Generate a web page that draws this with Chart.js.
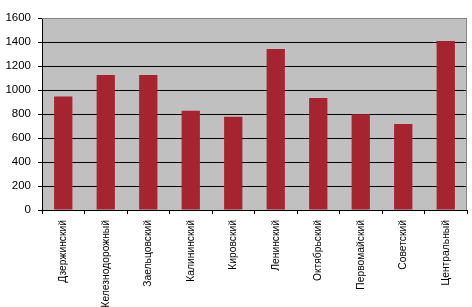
<!DOCTYPE html>
<html>
<head>
<meta charset="utf-8">
<script src="https://cdn.jsdelivr.net/npm/chart.js@4"></script>
<style>
  html, body { margin: 0; padding: 0; background: #fff; }
  #wrap { width: 472px; height: 307px; }
</style>
</head>
<body>
<div id="wrap"><canvas id="chart" width="472" height="307"></canvas></div>
<script>
// District values
const districts = ['Дзержинский', 'Железнодорожный', 'Заельцовский', 'Калининский', 'Кировский',
                   'Ленинский', 'Октябрьский', 'Первомайский', 'Советский', 'Центральный'];
const values = [945, 1125, 1125, 828, 778, 1342, 933, 797, 717, 1408];
const yMax = 1600;
const yStep = 200;

// gray plot background + gray top/right border
const plotFrame = {
    id: 'plotFrame',
    beforeDraw(chart) {
        const a = chart.chartArea;
        const ctx = chart.ctx;
        ctx.save();
        ctx.fillStyle = '#c0c0c0';
        ctx.fillRect(a.left, a.top, a.right - a.left, a.bottom - a.top);
        ctx.restore();
    },
    afterDatasetsDraw(chart) {
        const a = chart.chartArea;
        const ctx = chart.ctx;
        ctx.save();
        ctx.strokeStyle = '#858585';
        ctx.lineWidth = 1;
        ctx.beginPath();
        ctx.moveTo(a.left, a.top + 0.5);
        ctx.lineTo(a.right - 0.5, a.top + 0.5);
        ctx.lineTo(a.right - 0.5, a.bottom);
        ctx.stroke();
        ctx.restore();
    }
};

new Chart(document.getElementById('chart').getContext('2d'), {
    type: 'bar',
    data: {
        labels: districts,
        datasets: [{
            data: values,
            backgroundColor: '#a6242f',
            borderWidth: 0,
            categoryPercentage: 1,
            barPercentage: 0.43
        }]
    },
    options: {
        responsive: false,
        animation: false,
        layout: { padding: { top: 18, right: 5, left: 0, bottom: 0 } },
        plugins: { legend: { display: false }, tooltip: { enabled: false } },
        scales: {
            x: {
                afterFit(axis) { axis.height = 97; },
                grid: { display: true, drawOnChartArea: false, offset: true, color: '#000', tickLength: 4 },
                border: { color: '#000', width: 1 },
                ticks: {
                    minRotation: 90, maxRotation: 90, autoSkip: false,
                    padding: 6,
                    color: '#000',
                    font: { family: 'Liberation Sans, Arial', size: 10.3 }
                }
            },
            y: {
                min: 0, max: yMax,
                afterFit(axis) { axis.width = 42; },
                grid: {
                    color: (c) => (c.tick && c.tick.value === yMax) ? '#858585' : '#000',
                    tickColor: '#000',
                    tickLength: 4
                },
                border: { color: '#000', width: 1 },
                ticks: {
                    stepSize: yStep,
                    padding: 7,
                    color: '#000',
                    callback: (v) => String(v),
                    font: { family: 'Liberation Sans, Arial', size: 11.5 }
                }
            }
        }
    },
    plugins: [plotFrame]
});
</script>
</body>
</html>
